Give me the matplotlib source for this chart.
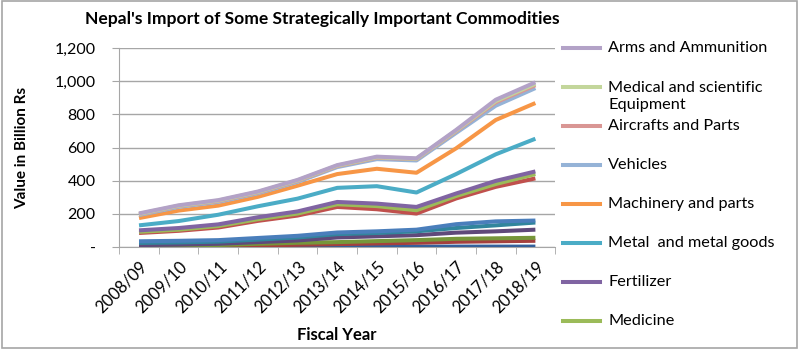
import numpy as np
import matplotlib
matplotlib.use("Agg")
import matplotlib.pyplot as plt
from matplotlib.lines import Line2D
from matplotlib.patches import Rectangle
from matplotlib.ticker import FuncFormatter

plt.rcParams['font.family'] = ['Lato', 'DejaVu Sans']

years = ['2008/09', '2009/10', '2010/11', '2011/12', '2012/13', '2013/14',
         '2014/15', '2015/16', '2016/17', '2017/18', '2018/19']

# stacked series, bottom of the stack first (values in billion Rs)
# the first seven are cut off from the legend in the original chart
other_1 = [2, 2, 2, 2, 2, 3, 3, 3, 3, 3, 3]
other_2 = [2, 3, 4, 8, 12, 15, 19, 23, 29, 32, 35]
other_3 = [2, 3, 6, 10, 12, 12, 14, 16, 18, 18, 18]
other_4 = [6, 7, 8, 10, 14, 28, 29, 30, 37, 42, 49]
other_5 = [13, 13, 13, 15, 18, 20, 20, 23, 28, 36, 43]
other_6 = [10, 10, 9, 10, 10, 10, 10, 10, 23, 24, 12]
other_7 = [50, 60, 76, 103, 122, 154, 133, 97, 155, 208, 254]
medicine = [7, 7, 9, 10, 12, 16, 19, 20, 15, 17, 26]
fertilizer = [9, 10, 10, 12, 13, 14, 15, 20, 15, 19, 16]
metal = [30, 42, 58, 66, 77, 85, 105, 87, 117, 160, 197]
machinery = [44, 63, 55, 57, 78, 83, 105, 119, 155, 207, 215]
vehicles = [18, 22, 22, 21, 23, 42, 58, 74, 93, 86, 90]
aircraft = [5, 5, 5, 5, 6, 6, 8, 8, 10, 20, 17]
medical_eq = [2, 2, 3, 3, 3, 3, 3, 2, 4, 8, 9]
arms = [3, 3, 3, 3, 3, 3, 4, 3, 4, 8, 9]

series = [
    (None, other_1, '#34609B'),
    (None, other_2, '#A5403D'),
    (None, other_3, '#76963A'),
    (None, other_4, '#5F497A'),
    (None, other_5, '#31859C'),
    (None, other_6, '#4A7EBB'),
    (None, other_7, '#C0504D'),
    ('Medicine', medicine, '#9BBB59'),
    ('Fertilizer', fertilizer, '#8064A2'),
    ('Metal  and metal goods', metal, '#4BACC6'),
    ('Machinery and parts', machinery, '#F79646'),
    ('Vehicles', vehicles, '#95B3D7'),
    ('Aircrafts and Parts', aircraft, '#D99694'),
    ('Medical and scientific\nEquipment', medical_eq, '#C3D69B'),
    ('Arms and Ammunition', arms, '#B3A2C7'),
]

fig = plt.figure(figsize=(8, 3.5), dpi=100)
ax = fig.add_axes([0.149, 0.294, 0.545, 0.569])

x = np.arange(len(years))
total = np.zeros(len(years))
for name, vals, col in series:
    total = total + np.array(vals)
    ax.plot(x, total, color=col, lw=2.9, solid_joinstyle='round',
            solid_capstyle='butt', zorder=3)

ax.set_xlim(-0.5, len(years) - 0.5)
ax.set_ylim(0, 1200)
ax.set_yticks(np.arange(0, 1201, 200))
ax.yaxis.set_major_formatter(FuncFormatter(lambda v, p: '-' if v == 0 else f'{int(v):,}'))
ax.grid(axis='y', color='#A6A6A6', lw=1, zorder=0)
ax.set_axisbelow(True)

ax.set_xticks(x)
ax.set_xticklabels(years, rotation=45, ha='right', rotation_mode='anchor', fontsize=12)
ax.tick_params(axis='x', which='major', length=0, pad=8)
ax.set_xticks(np.arange(-0.5, len(years), 1), minor=True)
ax.tick_params(axis='x', which='minor', length=5, color='#A6A6A6', direction='out')
ax.tick_params(axis='y', length=5, color='#A6A6A6', labelsize=11.5, pad=12)

for s in ['top', 'right']:
    ax.spines[s].set_visible(False)
for s in ['left', 'bottom']:
    ax.spines[s].set_color('#A6A6A6')

ax.set_ylabel('Value in Billion Rs', fontsize=11, fontweight='bold', labelpad=18)
ax.set_xlabel('Fiscal Year', fontsize=12, fontweight='bold', labelpad=8)

fig.text(0.403, 0.945, "Nepal's Import of Some Strategically Important Commodities",
         ha='center', va='center', fontsize=12.6, fontweight='bold')

# legend (the original shows only the top eight entries)
shown = [s for s in series if s[0] is not None][::-1]
for i, (name, vals, col) in enumerate(shown):
    ypx = 48 + 39 * i
    yf = 1 - ypx / 350
    fig.add_artist(Line2D([563 / 800, 600 / 800], [yf, yf], color=col, lw=2.9,
                          transform=fig.transFigure))
    if '\n' in name:
        fig.text(608 / 800, 1 - (ypx - 6) / 350, name, ha='left', va='top',
                 fontsize=11.7, linespacing=1.3)
    else:
        fig.text(608 / 800, yf, name, ha='left', va='center', fontsize=11.7)

fig.add_artist(Rectangle((0.002, 0.006), 0.994, 0.99, transform=fig.transFigure,
                         fill=False, edgecolor='#A6A6A6', lw=1.2))

fig.savefig('out.png', dpi=100)
